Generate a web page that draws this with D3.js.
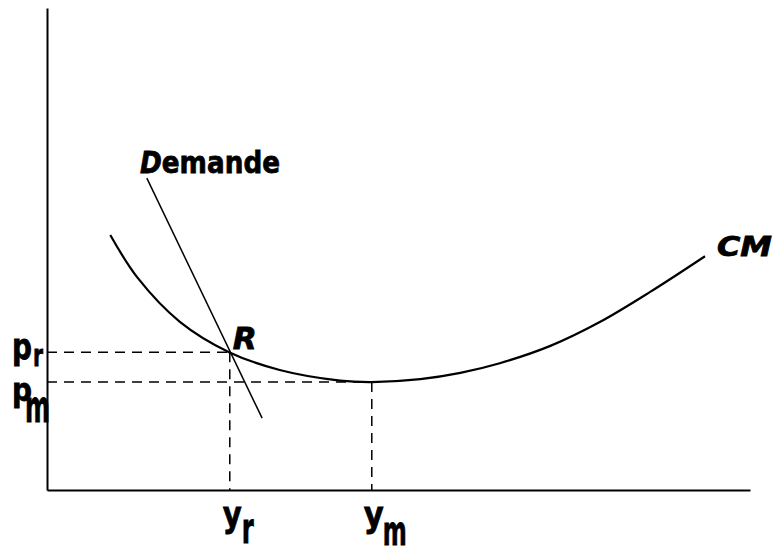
<!DOCTYPE html>
<html>
<head>
<meta charset="utf-8">
<script src="https://cdn.jsdelivr.net/npm/d3@7"></script>
<style>
  html, body { margin: 0; padding: 0; background: #fff; }
  svg { display: block; }
  .lbl { font-family: "DejaVu Sans", sans-serif; font-weight: bold; fill: #000; stroke: #000; stroke-width: 0.8; }
</style>
</head>
<body>
<div id="chart"></div>
<script>
// courbe de coût moyen (CM) et droite de demande, unités arbitraires 0-100
const cmX = [9.0, 12.9, 18.9, 25.9, 33.1, 41.7, 46.2, 53.1, 58.8, 64.4, 71.6, 78.7, 85.8, 93.6];
const cmY = [52.9, 44.0, 34.9, 28.6, 24.9, 22.7, 22.4, 23.0, 24.3, 26.3, 29.9, 34.9, 41.1, 48.5];

const demandeX = [14.2, 30.6];
const demandeY = [64.7, 14.9];

// points remarquables
const yr = 26.0, ym = 46.2;   // quantités
const pr = 28.6, pm = 22.4;   // prix

const width = 774, height = 549;

const svg = d3.select('#chart').append('svg')
    .attr('width', width)
    .attr('height', height);

const x = d3.scaleLinear().domain([0, 100]).range([47, 750]);
const y = d3.scaleLinear().domain([0, 100]).range([490, 8]);

// axes sans graduations
svg.append('g')
    .attr('transform', `translate(0,${y(0)})`)
    .call(d3.axisBottom(x).tickValues([]).tickSizeOuter(0))
    .call(g => g.select('.domain').attr('stroke-width', 2));

svg.append('g')
    .attr('transform', `translate(${x(0)},0)`)
    .call(d3.axisLeft(y).tickValues([]).tickSizeOuter(0))
    .call(g => g.select('.domain').attr('stroke-width', 2));

// pointillés vers les axes
const dashes = [
    [[0, pr], [yr, pr]],
    [[yr, pr], [yr, 0]],
    [[0, pm], [ym, pm]],
    [[ym, pm], [ym, 0]]
];
svg.selectAll('line.dash')
    .data(dashes)
    .enter()
    .append('line')
    .attr('class', 'dash')
    .attr('x1', d => x(d[0][0]))
    .attr('y1', d => y(d[0][1]))
    .attr('x2', d => x(d[1][0]))
    .attr('y2', d => y(d[1][1]))
    .attr('stroke', '#000')
    .attr('stroke-width', 1.5)
    .attr('stroke-dasharray', '10,7');

// courbe CM
const line = d3.line()
    .x(d => x(d[0]))
    .y(d => y(d[1]))
    .curve(d3.curveCatmullRom);

svg.append('path')
    .datum(cmX.map((v, i) => [v, cmY[i]]))
    .attr('d', line)
    .attr('fill', 'none')
    .attr('stroke', '#000')
    .attr('stroke-width', 2.2);

// droite de demande
svg.append('path')
    .datum(demandeX.map((v, i) => [v, demandeY[i]]))
    .attr('d', d3.line().x(d => x(d[0])).y(d => y(d[1])))
    .attr('fill', 'none')
    .attr('stroke', '#000')
    .attr('stroke-width', 1.5);

// étiquette : texte, position, taille, largeur forcée, italique
function label(txt, px, py, size, len, italic) {
    const t = svg.append('text')
        .attr('class', 'lbl')
        .attr('x', px)
        .attr('y', py)
        .attr('font-size', size)
        .text(txt);
    if (len) t.attr('textLength', len).attr('lengthAdjust', 'spacingAndGlyphs');
    if (italic) t.attr('font-style', 'italic');
    return t;
}

// prix sur l'axe vertical
label('p', x(0) - 35, y(pr) + 7, 35, 20);
label('r', x(0) - 14, y(pr) + 14, 31, 10);
label('p', x(0) - 35, y(pm) + 19, 32, 20);
label('m', x(0) - 22, y(pm) + 40, 44, 25);

// quantités sur l'axe horizontal
label('y', x(yr) - 7, y(0) + 37, 36, 19);
label('r', x(yr) + 12, y(0) + 53, 42, 12);
label('y', x(ym) - 8, y(0) + 37, 36, 20);
label('m', x(ym) + 11, y(0) + 55, 41, 24);

// noms des courbes
const dem = svg.append('text')
    .attr('class', 'lbl')
    .attr('x', 140)
    .attr('y', y(demandeY[0]) - 5)
    .attr('font-size', 31)
    .attr('textLength', 140)
    .attr('lengthAdjust', 'spacingAndGlyphs');
dem.append('tspan').attr('font-style', 'italic').text('D');
dem.append('tspan').text('emande');

label('CM', x(cmX[cmX.length - 1]) + 12, y(cmY[cmY.length - 1]) + 0, 26, 55, true);
label('R', x(yr) + 3, y(pr) - 3, 30, 24, true);
</script>
</body>
</html>
